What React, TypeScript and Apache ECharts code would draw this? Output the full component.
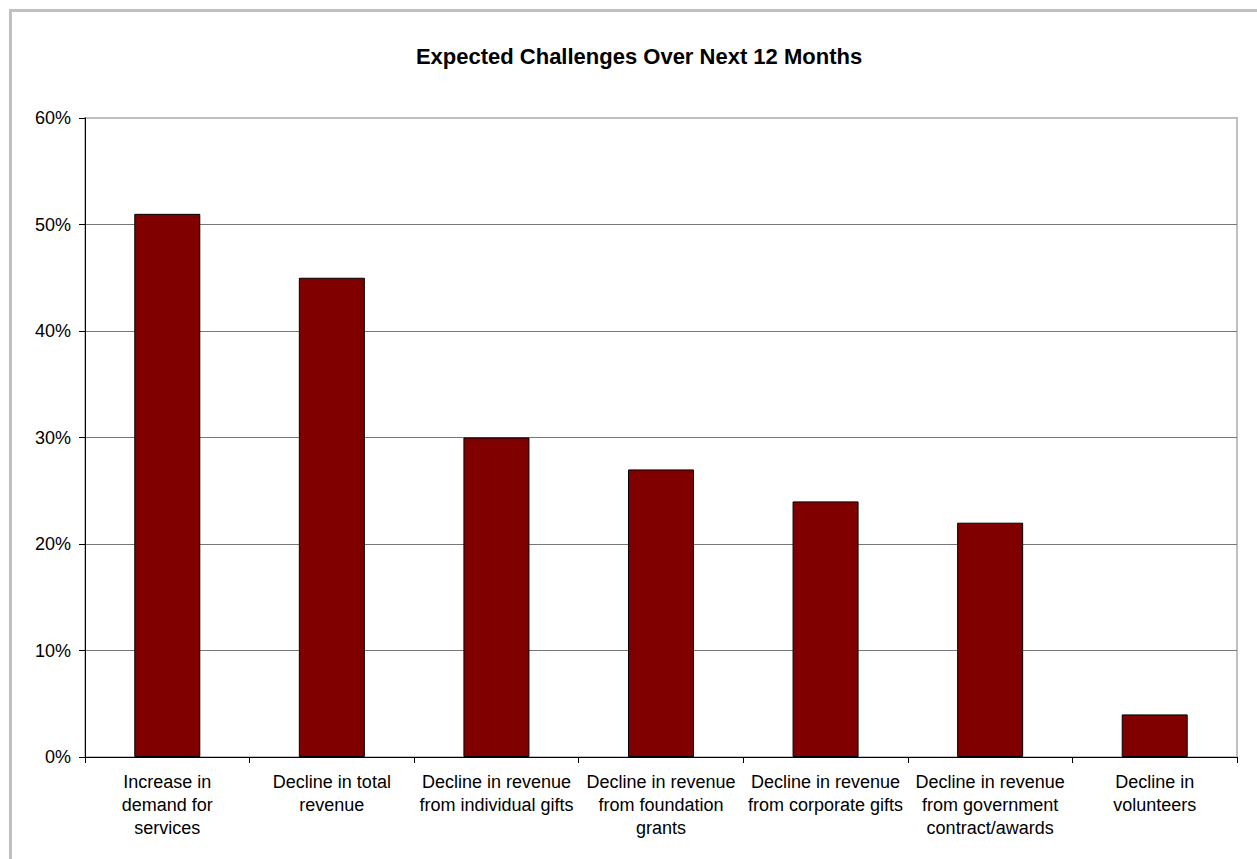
import React, { useEffect, useRef } from "react";
import * as echarts from "echarts";

const title = "Expected Challenges Over Next 12 Months";
const categories = [
  "Increase in\ndemand for\nservices",
  "Decline in total\nrevenue",
  "Decline in revenue\nfrom individual gifts",
  "Decline in revenue\nfrom foundation\ngrants",
  "Decline in revenue\nfrom corporate gifts",
  "Decline in revenue\nfrom government\ncontract/awards",
  "Decline in\nvolunteers",
];
const values = [51, 45, 30, 27, 24, 22, 4];

const FONT = "'Liberation Sans', Arial, sans-serif";

export default function App() {
  const ref = useRef<HTMLDivElement>(null);
  useEffect(() => {
    if (!ref.current) return;
    const chart = echarts.init(ref.current, null, { renderer: "svg" });
    chart.setOption({
      animation: false,
      backgroundColor: "#ffffff",
      textStyle: { fontFamily: FONT },
      title: {
        text: title,
        left: 634,
        top: 40,
        textAlign: "center",
        textStyle: { fontFamily: FONT, fontSize: 22, fontWeight: "bold", color: "#000" },
      },
      graphic: [
        {
          type: "rect",
          shape: { x: 10.5, y: 10.5, width: 1400, height: 1000 },
          style: { fill: "none", stroke: "#C0C0C0", lineWidth: 3 },
          silent: true,
        },
      ],
      grid: {
        left: 85,
        right: 20,
        top: 118,
        bottom: 102,
        show: true,
        borderColor: "#C0C0C0",
        borderWidth: 2,
        backgroundColor: "transparent",
      },
      xAxis: {
        type: "category",
        data: categories,
        axisLine: { lineStyle: { color: "#000", width: 1 } },
        axisTick: { show: true, alignWithLabel: false, length: 6, lineStyle: { color: "#000" } },
        axisLabel: {
          interval: 0,
          margin: 13,
          fontSize: 18,
          lineHeight: 23,
          color: "#000",
          fontFamily: FONT,
          align: "center",
        },
      },
      yAxis: {
        type: "value",
        min: 0,
        max: 60,
        interval: 10,
        axisLine: { show: true, lineStyle: { color: "#000", width: 1 } },
        axisTick: { show: true, length: 6, lineStyle: { color: "#000" } },
        axisLabel: {
          formatter: "{value}%",
          margin: 14,
          fontSize: 18,
          color: "#000",
          fontFamily: FONT,
        },
        splitLine: {
          show: true,
          lineStyle: {
            color: ["#777", "#777", "#777", "#777", "#777", "#777", "#C0C0C0"],
            width: 1,
          },
        },
      },
      series: [
        {
          type: "bar",
          data: values,
          barWidth: 66,
          itemStyle: { color: "#800000", borderColor: "#000", borderWidth: 1 },
        },
      ],
    });
    return () => chart.dispose();
  }, []);
  return (
    <div
      ref={ref}
      style={{ position: "absolute", left: 0, top: 0, width: 1257, height: 859 }}
    />
  );
}
